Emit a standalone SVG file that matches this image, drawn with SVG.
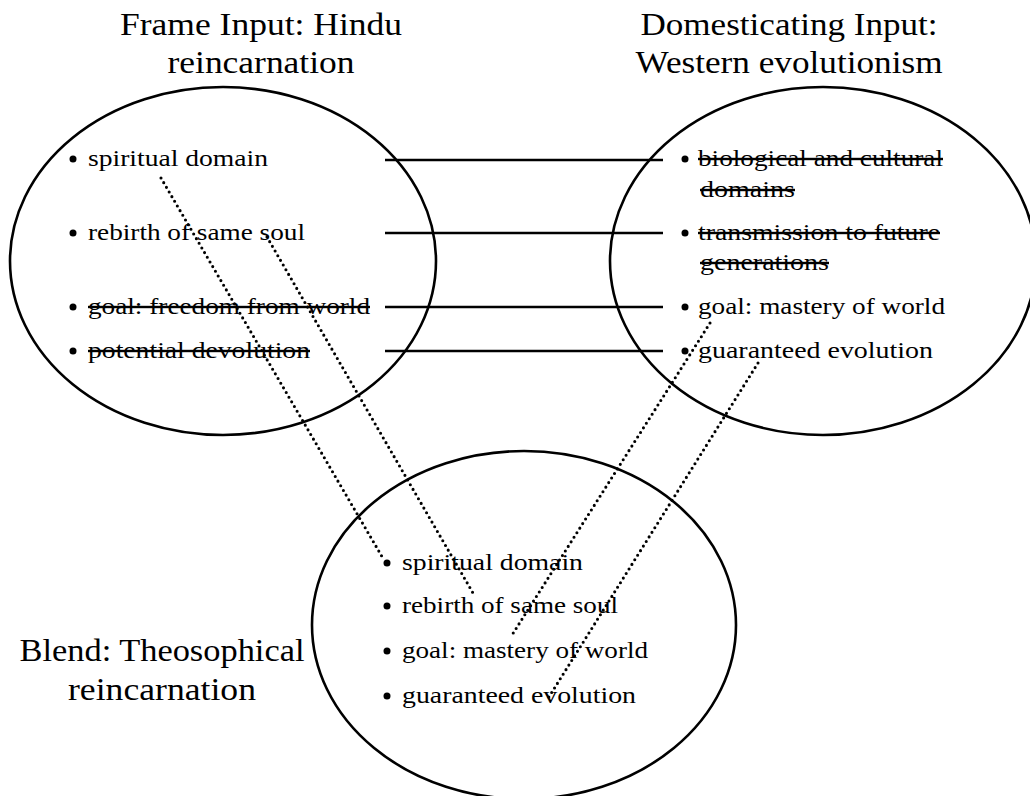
<svg xmlns="http://www.w3.org/2000/svg" width="1030" height="796" viewBox="0 0 1030 796">
<style>
text{font-family:"Liberation Serif","Times New Roman",serif;fill:#000}
.t{font-size:32px;text-anchor:middle}
.i{font-size:24px}
.s{text-decoration:line-through}
.el{fill:none;stroke:#000;stroke-width:2.6}
.b{fill:#000}
.solid{stroke:#000;stroke-width:2.4;fill:none}
.dot{stroke:#000;stroke-width:3.1;fill:none;stroke-linecap:round;stroke-dasharray:0 5.4}
</style>
<rect width="1030" height="796" fill="#fff"/>
<g id="frame-input">
<ellipse class="el" cx="223" cy="261" rx="213" ry="174"/>
<text class="t" x="261" y="35" textLength="282" lengthAdjust="spacingAndGlyphs">Frame Input: Hindu</text>
<text class="t" x="261" y="73" textLength="187" lengthAdjust="spacingAndGlyphs">reincarnation</text>
<circle class="b" cx="73" cy="159" r="3.5"/>
<text class="i" x="88" y="166" textLength="180" lengthAdjust="spacingAndGlyphs">spiritual domain</text>
<circle class="b" cx="73" cy="233" r="3.5"/>
<text class="i" x="88" y="240" textLength="217" lengthAdjust="spacingAndGlyphs">rebirth of same soul</text>
<circle class="b" cx="73" cy="307" r="3.5"/>
<text class="i s" x="88" y="314" textLength="282" lengthAdjust="spacingAndGlyphs">goal: freedom from world</text>
<circle class="b" cx="73" cy="351" r="3.5"/>
<text class="i s" x="88" y="358" textLength="222" lengthAdjust="spacingAndGlyphs">potential devolution</text>
</g>
<g id="domesticating-input">
<ellipse class="el" cx="823" cy="261" rx="213" ry="174"/>
<text class="t" x="789" y="35" textLength="297" lengthAdjust="spacingAndGlyphs">Domesticating Input:</text>
<text class="t" x="789" y="73" textLength="307" lengthAdjust="spacingAndGlyphs">Western evolutionism</text>
<circle class="b" cx="685" cy="159" r="3.5"/>
<text class="i s" x="698" y="166" textLength="245" lengthAdjust="spacingAndGlyphs">biological and cultural</text>
<text class="i s" x="700" y="197" textLength="95" lengthAdjust="spacingAndGlyphs">domains</text>
<circle class="b" cx="685" cy="233" r="3.5"/>
<text class="i s" x="698" y="240" textLength="242" lengthAdjust="spacingAndGlyphs">transmission to future</text>
<text class="i s" x="700" y="270" textLength="129" lengthAdjust="spacingAndGlyphs">generations</text>
<circle class="b" cx="685" cy="307" r="3.5"/>
<text class="i" x="698" y="314" textLength="247" lengthAdjust="spacingAndGlyphs">goal: mastery of world</text>
<circle class="b" cx="685" cy="351" r="3.5"/>
<text class="i" x="698" y="358" textLength="235" lengthAdjust="spacingAndGlyphs">guaranteed evolution</text>
</g>
<g id="blend">
<ellipse class="el" cx="524" cy="625" rx="212" ry="174"/>
<text class="t" x="162" y="661" textLength="285" lengthAdjust="spacingAndGlyphs">Blend: Theosophical</text>
<text class="t" x="162" y="700" textLength="188" lengthAdjust="spacingAndGlyphs">reincarnation</text>
<circle class="b" cx="387" cy="563" r="3.5"/>
<text class="i" x="402" y="570" textLength="181" lengthAdjust="spacingAndGlyphs">spiritual domain</text>
<circle class="b" cx="387" cy="606" r="3.5"/>
<text class="i" x="402" y="613" textLength="216" lengthAdjust="spacingAndGlyphs">rebirth of same soul</text>
<circle class="b" cx="387" cy="651" r="3.5"/>
<text class="i" x="402" y="658" textLength="246" lengthAdjust="spacingAndGlyphs">goal: mastery of world</text>
<circle class="b" cx="387" cy="696" r="3.5"/>
<text class="i" x="402" y="703" textLength="234" lengthAdjust="spacingAndGlyphs">guaranteed evolution</text>
</g>
<g id="connectors">
<line class="solid" x1="385" y1="160" x2="663" y2="160"/>
<line class="solid" x1="385" y1="233" x2="663" y2="233"/>
<line class="solid" x1="385" y1="307" x2="663" y2="307"/>
<line class="solid" x1="385" y1="351" x2="663" y2="351"/>
<line class="dot" x1="161" y1="178" x2="384" y2="560"/>
<line class="dot" x1="267" y1="237" x2="473" y2="593"/>
<line class="dot" x1="710" y1="323" x2="512" y2="635"/>
<line class="dot" x1="758" y1="363" x2="547" y2="700"/>
</g>
</svg>
